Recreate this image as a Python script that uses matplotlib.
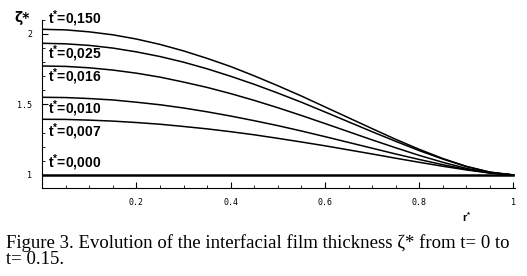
import numpy as np
import matplotlib
matplotlib.use("Agg")
import matplotlib.pyplot as plt
from matplotlib.ticker import MultipleLocator, FixedLocator

plt.rcParams['mathtext.default'] = 'regular'

# radial positions r* and film thickness zeta* for each time t*
r = [0.0, 0.05, 0.1, 0.15, 0.2, 0.25, 0.3, 0.35, 0.4, 0.45, 0.5,
     0.55, 0.6, 0.65, 0.7, 0.75, 0.8, 0.85, 0.9, 0.95, 1.0]
zeta_000 = [1.0] * 21
zeta_007 = [1.395, 1.394, 1.389, 1.382, 1.372, 1.360, 1.344, 1.327, 1.307, 1.285, 1.260,
            1.234, 1.207, 1.178, 1.149, 1.119, 1.090, 1.062, 1.036, 1.014, 1.0]
zeta_010 = [1.551, 1.549, 1.542, 1.532, 1.516, 1.498, 1.475, 1.448, 1.418, 1.385, 1.350,
            1.312, 1.272, 1.231, 1.190, 1.149, 1.110, 1.073, 1.040, 1.014, 1.0]
zeta_016 = [1.773, 1.770, 1.760, 1.744, 1.722, 1.694, 1.659, 1.621, 1.577, 1.529, 1.477,
            1.422, 1.365, 1.307, 1.249, 1.193, 1.139, 1.090, 1.047, 1.016, 1.0]
zeta_025 = [1.934, 1.930, 1.919, 1.900, 1.873, 1.840, 1.800, 1.753, 1.700, 1.643, 1.581,
            1.516, 1.447, 1.377, 1.307, 1.239, 1.173, 1.113, 1.060, 1.020, 1.0]
zeta_150 = [2.033, 2.029, 2.015, 1.994, 1.964, 1.926, 1.880, 1.827, 1.769, 1.703, 1.633,
            1.560, 1.483, 1.406, 1.329, 1.253, 1.182, 1.117, 1.061, 1.020, 1.0]

series = [zeta_150, zeta_025, zeta_016, zeta_010, zeta_007]
labels = ["0,150", "0,025", "0,016", "0,010", "0,007", "0,000"]
label_y = [2.105, 1.86, 1.70, 1.47, 1.31, 1.085]

fig = plt.figure(figsize=(5.27, 2.76), dpi=100)
ax = fig.add_axes([0.08, 0.319, 0.897, 0.609])

for z in series:
    ax.plot(r, z, color='black', lw=1.1)
ax.plot(r, zeta_000, color='black', lw=1.8)

ax.set_xlim(0, 1.003)
ax.set_ylim(0.908, 2.1)

for s in ['top', 'right']:
    ax.spines[s].set_visible(False)
for s in ['left', 'bottom']:
    ax.spines[s].set_linewidth(0.8)

ax.xaxis.set_major_locator(FixedLocator([0.2, 0.4, 0.6, 0.8, 1.0]))
ax.xaxis.set_minor_locator(MultipleLocator(0.05))
ax.set_xticklabels(["0.2", "0.4", "0.6", "0.8", "1"])
ax.yaxis.set_major_locator(FixedLocator([1.0, 1.5, 2.0]))
ax.yaxis.set_minor_locator(MultipleLocator(0.1))
ax.set_yticklabels(["1", "1.5", "2"])
ax.tick_params(which='major', direction='in', length=4, width=0.8,
               labelsize=6, pad=7)
ax.tick_params(which='minor', direction='in', length=2, width=0.6)
for lab in ax.get_xticklabels() + ax.get_yticklabels():
    lab.set_family('DejaVu Sans Mono')

for lab, yv in zip(labels, label_y):
    ax.text(0.013, yv, "t$^{*}$=" + lab, fontsize=10, fontweight='bold',
            family='Liberation Sans', va='center', ha='left', clip_on=False)

fig.text(0.027, 0.935, "ζ*", fontsize=10, fontweight='bold',
         family='DejaVu Sans', va='center')
fig.text(0.876, 0.215, "r$^{*}$", fontsize=8, fontweight='bold',
         family='Liberation Sans', va='center')

fig.text(0.011, 0.102,
         "Figure 3. Evolution of the interfacial film thickness ζ* from t= 0 to",
         fontsize=13.5, family='Liberation Serif', va='baseline', ha='left')
fig.text(0.011, 0.043, "t= 0.15.",
         fontsize=13.5, family='Liberation Serif', va='baseline', ha='left')

fig.savefig("out.png", dpi=100)
